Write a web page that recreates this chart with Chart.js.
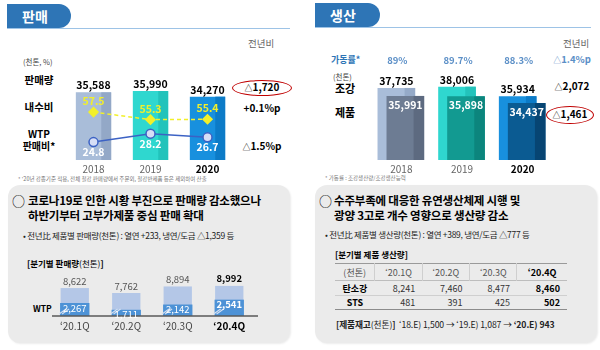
<!DOCTYPE html>
<html>
<head>
<meta charset="utf-8">
<script src="https://cdn.jsdelivr.net/npm/chart.js@4.4.0/dist/chart.umd.min.js"></script>
<style>
body{margin:0;width:600px;height:350px;position:relative;overflow:hidden;background:#fff;
  font-family:"Noto Sans CJK KR","Noto Sans",sans-serif;color:#000}
.t{position:absolute;white-space:nowrap;line-height:1.2}
.c{transform:translate(-50%,-50%)}
.l{transform:translateY(-50%)}
.b{font-weight:bold}
.tri{font-size:8px;font-weight:normal}
canvas{position:absolute}
.tab{position:absolute;height:24px;background:#2e75b6;border-radius:0 12px 12px 0;color:#fff;
  font-weight:bold;font-size:14px;line-height:24px;padding-left:15px;box-sizing:border-box}
.rule{position:absolute;height:1px;background:#9dc3e6}
.ring{position:absolute;border:1px solid #c00000;border-radius:50%}
.box{position:absolute;background:#ebebeb;border-radius:12px;box-shadow:1px 1px 2px rgba(0,0,0,0.08)}
.title{font-size:11.5px;font-weight:bold;letter-spacing:-0.2px}
.bullet{font-size:8.5px;color:#222;letter-spacing:-0.3px}
table{position:absolute;border-collapse:collapse;font-size:9px;color:#333}
td{padding:0 7px 0 0;text-align:right}
tr.h td{text-align:center;padding:0;border-left:1px solid #cfcfcf;color:#555;height:16px}
tr.h td:first-child{border-left:none}
tr.r1 td{height:14px;border-top:1px solid #bdbdbd}
tr.r2 td{height:13px;border-top:1px solid #cfcfcf;border-bottom:1px solid #8c8c8c}
td.n{text-align:center;padding:0;font-weight:bold;color:#000}
</style>
</head>
<body>

<!-- 판매 -->
<div class="rule" style="left:7px;top:28px;width:283px"></div>
<div class="tab" style="left:7px;top:4px;width:64px">판매</div>
<div class="t l" style="left:248px;top:44px;font-size:9.5px;color:#666">전년비</div>
<div class="t l" style="left:23px;top:61px;font-size:7.5px;color:#444">(천톤, %)</div>
<div class="t c b" style="left:39px;top:80px;font-size:10.5px">판매량</div>
<div class="t c b" style="left:39px;top:107px;font-size:10.5px">내수비</div>
<div class="t c b" style="left:39px;top:134px;font-size:10px">WTP</div>
<div class="t c b" style="left:39px;top:146px;font-size:10px">판매비*</div>
<div class="t c b" style="left:262px;top:87px;font-size:10px"><span class="tri">△</span>1,720</div>
<div class="ring" style="left:232px;top:80px;width:58px;height:14px"></div>
<div class="t c b" style="left:262px;top:108px;font-size:10px">+0.1%p</div>
<div class="t c b" style="left:262px;top:146px;font-size:10px"><span class="tri">△</span>1.5%p</div>
<div class="t l" style="left:18px;top:179px;font-size:5.5px;color:#777">* '20년 강종기준 적용, 전체 철강 판매량에서 주문외, 철강반제품 등은 제외하여 산출</div>
<canvas id="salesChart" width="183" height="114" style="left:59px;top:62px"></canvas>

<!-- 생산 -->
<div class="rule" style="left:315px;top:27px;width:276px"></div>
<div class="tab" style="left:315px;top:3px;width:65px">생산</div>
<div class="t l" style="left:563px;top:44px;font-size:9.5px;color:#666">전년비</div>
<div class="t l b" style="left:331px;top:60px;font-size:9px;color:#2e75b6">가동률*</div>
<div class="t c b" style="left:572px;top:60px;font-size:9.5px;color:#5b8fc7"><span class="tri">△</span>1.4%p</div>
<div class="t l" style="left:333px;top:76px;font-size:7.5px;color:#444">(천톤)</div>
<div class="t l b" style="left:335px;top:89px;font-size:11px">조강</div>
<div class="t l b" style="left:335px;top:113px;font-size:11px">제품</div>
<div class="t c b" style="left:572px;top:86px;font-size:10px"><span class="tri">△</span>2,072</div>
<div class="t c b" style="left:570px;top:114px;font-size:10px"><span class="tri">△</span>1,461</div>
<div class="ring" style="left:546px;top:106px;width:46px;height:16px"></div>
<div class="t l" style="left:325px;top:178px;font-size:5.5px;color:#777">* 가동률 : 조강생산량/조강생산능력</div>
<canvas id="prodChart" width="182" height="126" style="left:366px;top:50px"></canvas>

<!-- 하단 좌 -->
<div class="box" style="left:8px;top:185px;width:282px;height:158px"></div>
<div class="t l" style="left:12px;top:201px;font-size:13px">○</div>
<div class="t l title" style="left:28px;top:201px">코로나19로 인한 시황 부진으로 판매량 감소했으나</div>
<div class="t l title" style="left:28px;top:216px">하반기부터 고부가제품 중심 판매 확대</div>
<div class="t l bullet" style="left:23px;top:235px">• 전년比 제품별 판매량(천톤) : 열연 +233, 냉연/도금 △1,359 등</div>
<div class="t l" style="left:27px;top:263px;font-size:8.5px"><b>[분기별 판매량</b>(천톤)<b>]</b></div>
<div class="t l b" style="left:33px;top:308px;font-size:8.5px">WTP</div>
<canvas id="quarterChart" width="215" height="64" style="left:46px;top:270px"></canvas>

<!-- 하단 우 -->
<div class="box" style="left:315px;top:185px;width:282px;height:158px"></div>
<div class="t l" style="left:319px;top:201px;font-size:13px">○</div>
<div class="t l title" style="left:334px;top:201px">수주부족에 대응한 유연생산체제 시행 및</div>
<div class="t l title" style="left:334px;top:216px">광양 3고로 개수 영향으로 생산량 감소</div>
<div class="t l bullet" style="left:325px;top:234px">• 전년比 제품별 생산량(천톤) : 열연 +389, 냉연/도금 △777 등</div>
<div class="t l b" style="left:335px;top:254px;font-size:8.5px">[분기별 제품 생산량]</div>
<table id="prodTable" style="left:335px;top:263px;width:232px;border-top:1.5px solid #9a9a9a"></table>
<div class="t l" style="left:336px;top:325px;font-size:8.7px;color:#222;letter-spacing:-0.1px"><b>[제품재고</b>(천톤)<b>]</b>&nbsp; ‘18.E) 1,500 → ‘19.E) 1,087 → <b>‘20.E) 943</b></div>

<script>
// 연도별 판매
const years = ['2018', '2019', '2020'];
const salesVolume = [35588, 35990, 34270];
const domesticRatio = [57.5, 55.3, 55.4];
const wtpRatio = [24.8, 28.2, 26.7];

// 연도별 생산
const crudeSteel = [37735, 38006, 35934];
const productOutput = [35991, 35898, 34437];
const utilization = [89, 89.7, 88.3];

// 분기별
const quarters = ['‘20.1Q', '‘20.2Q', '‘20.3Q', '‘20.4Q'];
const quarterSales = [8622, 7762, 8894, 8992];
const quarterWtp = [2267, 1711, 2142, 2541];
const quarterCarbon = [8241, 7460, 8477, 8460];
const quarterSts = [481, 391, 425, 502];

const fmt = v => v.toLocaleString('en-US');
const FONT = '"Noto Sans CJK KR", "Noto Sans", sans-serif';

// 표
const tbl = document.getElementById('prodTable');
tbl.innerHTML =
    '<tr class="h"><td>(천톤)</td>' + quarters.map((q, i) =>
        i === 3 ? '<td style="font-weight:bold;color:#000">' + q + '</td>' : '<td>' + q + '</td>').join('') + '</tr>' +
    '<tr class="r1"><td class="n">탄소강</td>' + quarterCarbon.map((v, i) =>
        '<td' + (i === 3 ? ' style="font-weight:bold;color:#000"' : '') + '>' + fmt(v) + '</td>').join('') + '</tr>' +
    '<tr class="r2"><td class="n">STS</td>' + quarterSts.map((v, i) =>
        '<td' + (i === 3 ? ' style="font-weight:bold;color:#000"' : '') + '>' + fmt(v) + '</td>').join('') + '</tr>';

// 막대 오른쪽 음영 + 겹친 막대 이동
const barDeco = {
    id: 'barDeco',
    beforeDatasetDraw(chart, args) {
        const ds = chart.data.datasets[args.index];
        if (ds.shiftX) {
            chart.ctx.save();
            chart.ctx.translate(ds.shiftX, 0);
        }
    },
    afterDatasetDraw(chart, args) {
        const ds = chart.data.datasets[args.index];
        const ctx = chart.ctx;
        if (ds.stripColor) {
            args.meta.data.forEach((bar, i) => {
                const w = bar.width * 0.28;
                ctx.fillStyle = ds.stripColor[i];
                ctx.fillRect(bar.x + bar.width / 2 - w, bar.y, w, bar.base - bar.y);
            });
        }
        if (ds.shiftX) ctx.restore();
    }
};

function text(ctx, str, x, y, color, size, bold) {
    ctx.font = (bold ? 'bold ' : '') + size + 'px ' + FONT;
    ctx.fillStyle = color;
    ctx.textAlign = 'center';
    ctx.textBaseline = 'middle';
    ctx.fillText(str, x, y);
}

const baseOpts = {
    responsive: false,
    animation: false,
    plugins: { legend: { display: false }, tooltip: { enabled: false } }
};

// 판매 차트
new Chart(document.getElementById('salesChart'), {
    type: 'bar',
    data: {
        labels: years,
        datasets: [
            {
                type: 'line', data: domesticRatio, yAxisID: 'yDom', order: 1,
                borderColor: '#f2f02a', borderWidth: 1.5, borderDash: [4, 3],
                pointStyle: 'rectRot', pointRadius: 4.5, pointBackgroundColor: '#f2f02a',
                pointBorderColor: '#f2f02a'
            },
            {
                type: 'line', data: wtpRatio, yAxisID: 'yWtp', order: 2,
                borderColor: '#3c62c4', borderWidth: 1.5,
                pointStyle: 'circle', pointRadius: 4.5, pointBackgroundColor: '#d6def6',
                pointBorderColor: '#3c62c4', pointBorderWidth: 1.5
            },
            {
                data: salesVolume, yAxisID: 'y', order: 3, base: 15000,
                backgroundColor: ['#a9bdd9', '#2fd7cf', '#1890de'],
                stripColor: ['#93a8c7', '#22c3bb', '#0c7bc7'],
                barPercentage: 0.62, categoryPercentage: 1
            }
        ]
    },
    options: {
        ...baseOpts,
        layout: { padding: { top: 0, bottom: 16, left: 0, right: 0 } },
        scales: {
            x: { display: false },
            y: { display: false, min: 15000, max: 43000 },
            yDom: { display: false, min: 43.5, max: 70.4 },
            yWtp: { display: false, min: 17.6, max: 54.6 }
        }
    },
    plugins: [barDeco, {
        id: 'salesLabels',
        afterDatasetsDraw(chart) {
            const ctx = chart.ctx;
            const bars = chart.getDatasetMeta(2).data;
            const dom = chart.getDatasetMeta(0).data;
            const wtp = chart.getDatasetMeta(1).data;
            bars.forEach((b, i) => {
                text(ctx, fmt(salesVolume[i]), b.x, b.y - 7, '#000', 10.5, true);
                text(ctx, domesticRatio[i].toFixed(1), dom[i].x, dom[i].y - 11, '#f2ef2a', 10.5, true);
                text(ctx, wtpRatio[i].toFixed(1), wtp[i].x, wtp[i].y + 10, '#ffffff', 10.5, true);
                const last = i === years.length - 1;
                text(ctx, years[i], b.x, chart.chartArea.bottom + 9, last ? '#000' : '#666', 10, last);
            });
        }
    }]
});

// 생산 차트
new Chart(document.getElementById('prodChart'), {
    type: 'bar',
    data: {
        labels: years,
        datasets: [
            {
                data: crudeSteel, order: 2, base: 22000,
                backgroundColor: ['#a9bdd9', '#2fd7cf', '#1890de'],
                stripColor: ['#95aac8', '#23c3bb', '#0c7bc7'],
                barPercentage: 0.62, categoryPercentage: 1, grouped: false
            },
            {
                data: productOutput, order: 1, shiftX: 9, base: 22000,
                backgroundColor: ['#6d7c93', '#129a91', '#0b5b92'],
                stripColor: ['#5d6a80', '#0c857d', '#074573'],
                barPercentage: 0.62, categoryPercentage: 1, grouped: false
            }
        ]
    },
    options: {
        ...baseOpts,
        layout: { padding: { top: 12, bottom: 16, left: 0, right: 0 } },
        scales: {
            x: { display: false },
            y: { display: false, min: 22000, max: 43400 }
        }
    },
    plugins: [barDeco, {
        id: 'prodLabels',
        afterDatasetsDraw(chart) {
            const ctx = chart.ctx;
            const crude = chart.getDatasetMeta(0).data;
            const prod = chart.getDatasetMeta(1).data;
            crude.forEach((b, i) => {
                text(ctx, fmt(crudeSteel[i]), b.x, b.y - 7, '#000', 10.5, true);
                text(ctx, fmt(productOutput[i]), prod[i].x + 9, prod[i].y + 9, '#ffffff', 10.5, true);
                text(ctx, utilization[i] + '%', b.x + 1, 10, '#5b8fc7', 9.5, true);
                const last = i === years.length - 1;
                text(ctx, years[i], b.x + 5, chart.chartArea.bottom + 9, last ? '#000' : '#666', 10, last);
            });
        }
    }]
});

// 분기별 판매량 차트
new Chart(document.getElementById('quarterChart'), {
    type: 'bar',
    data: {
        labels: quarters,
        datasets: [
            {
                data: quarterSales, yAxisID: 'y', order: 2, base: 3800,
                backgroundColor: '#b4c7e7',
                barPercentage: 0.55, categoryPercentage: 1, grouped: false
            },
            {
                data: quarterWtp, yAxisID: 'yWtp', order: 1, base: 1200,
                backgroundColor: '#4d92d6',
                barPercentage: 0.57, categoryPercentage: 1, grouped: false
            }
        ]
    },
    options: {
        ...baseOpts,
        layout: { padding: { top: 0, bottom: 18, left: 3, right: 6 } },
        scales: {
            x: { display: false },
            y: { display: false, min: 3800, max: 11731 },
            yWtp: { display: false, min: 1200, max: 4976 }
        }
    },
    plugins: [{
        id: 'quarterDeco',
        afterDatasetsDraw(chart) {
            const ctx = chart.ctx;
            const area = chart.chartArea;
            const light = chart.getDatasetMeta(0).data;
            const dark = chart.getDatasetMeta(1).data;
            // 생략 표시
            ctx.strokeStyle = '#d3dff1';
            ctx.lineWidth = 1.2;
            dark.forEach(b => {
                const l = b.x - b.width / 2;
                [0, 3].forEach(dx => {
                    ctx.beginPath();
                    ctx.moveTo(l - 1 + dx, b.base - 2);
                    ctx.lineTo(l + 6 + dx, b.base - 7);
                    ctx.stroke();
                });
            });
            // 기준선
            ctx.strokeStyle = '#595959';
            ctx.lineWidth = 1.5;
            ctx.beginPath();
            ctx.moveTo(6, area.bottom);
            ctx.lineTo(212, area.bottom);
            ctx.stroke();
            light.forEach((b, i) => {
                const last = i === quarters.length - 1;
                text(ctx, fmt(quarterSales[i]), b.x, b.y - 7, last ? '#000' : '#555', 9.5, last);
                text(ctx, fmt(quarterWtp[i]), dark[i].x, dark[i].y + 5, '#ffffff', 9.5, last);
                text(ctx, quarters[i], b.x, area.bottom + 10, last ? '#000' : '#444', 10, last);
            });
        }
    }]
});
</script>
</body>
</html>
